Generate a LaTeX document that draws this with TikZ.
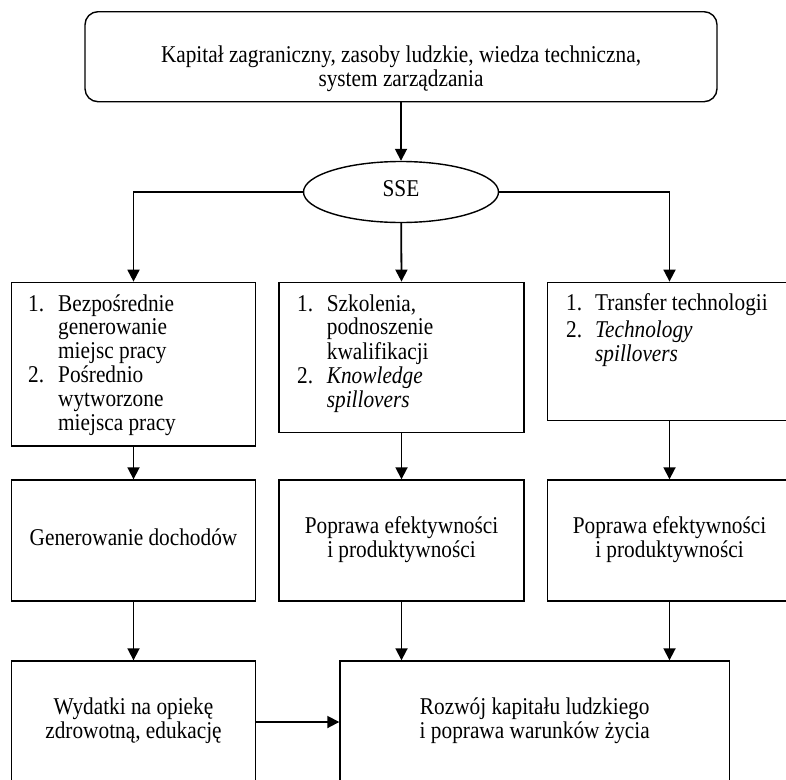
\documentclass[tikz,border=0pt]{standalone}
\usepackage{fontspec}
\usepackage{graphicx}
\setmainfont{Liberation Serif}
\usetikzlibrary{arrows.meta,shapes.geometric,calc}
\newcommand{\tx}[1]{\scalebox{1}[1.13]{\begin{tabular}{@{}c@{}}#1\end{tabular}}}
\newcommand{\lx}[2]{\scalebox{1}[1.13]{\begin{tabular}[t]{@{}l@{\hspace{#1}}l@{}}#2\end{tabular}}}
\begin{document}
\begin{tikzpicture}[x=1pt,y=-1pt,
  box/.style={draw,line width=1.4pt,rectangle,inner sep=0pt},
  txt/.style={font=\fontsize{21.3}{21.2}\selectfont,align=center,inner sep=0pt},
  lst/.style={font=\fontsize{21.3}{21.2}\selectfont,inner sep=0pt,anchor=base west},
  arr/.style={line width=1.8pt,-{Triangle[length=12pt,width=12pt]}}]
\useasboundingbox (0,0) rectangle (786,779);
\clip (0,0) rectangle (786,779);
% top
\node[box,rounded corners=13pt,minimum width=632pt,minimum height=90pt] (top) at (401,56.7) {};
\node[txt] (toptxt) at (401,70) {\tx{Kapitał zagraniczny, zasoby ludzkie, wiedza techniczna,\\system zarządzania}};
\node[draw,ellipse,line width=1.4pt,minimum width=195pt,minimum height=61pt,txt] (sse) at (401,192) {\tx{SSE}};
% row 1
\node[box,minimum width=244pt,minimum height=163.7pt] (b1) at (133.5,364.2) {};
\node[box,minimum width=245pt,minimum height=150.4pt] (b2) at (401.5,357.5) {};
\node[box,minimum width=244pt,minimum height=138.4pt] (b3) at (669.5,351.5) {};
\node[lst] (t1) at (28,311) {\lx{14pt}{1. & Bezpośrednie\\ & generowanie\\ & miejsc pracy\\ 2. & Pośrednio\\ & wytworzone\\ & miejsca pracy}};
\node[lst] (t2) at (297,311) {\lx{13.7pt}{1. & Szkolenia,\\ & podnoszenie\\ & kwalifikacji\\ 2. & \textit{Knowledge}\\ & \textit{spillovers}}};
\node[lst] (t3) at (566,310) {\lx{13pt}{1. & Transfer technologii\\[3.5pt] 2. & \textit{Technology}\\ & \textit{spillovers}}};
% row 2
\node[box,txt,minimum width=244pt,minimum height=121pt] (c1) at (133.5,540.5) {\tx{Generowanie dochodów}};
\node[box,txt,minimum width=245pt,minimum height=121pt] (c2) at (401.5,540.5) {\tx{Poprawa efektywności\\i produktywności}};
\node[box,txt,minimum width=244pt,minimum height=121pt] (c3) at (669.5,540.5) {\tx{Poprawa efektywności\\i produktywności}};
% row 3
\node[box,txt,minimum width=244pt,minimum height=122pt] (w) at (133.5,722) {\tx{Wydatki na opiekę\\zdrowotną, edukację}};
\node[box,txt,minimum width=389.5pt,minimum height=122pt] (big) at (534.75,722) {\tx{Rozwój kapitału ludzkiego\\i poprawa warunków życia}};
% connectors
\draw[arr] (top) -- (sse);
\draw[arr] (sse.west) -| (b1.north);
\draw[arr] (sse) -- (b2.north);
\draw[arr] (sse.east) -| (b3.north);
\draw[arr] (b1) -- (c1);
\draw[arr] (b2) -- (c2);
\draw[arr] (b3) -- (c3);
\draw[arr] (c1) -- (w);
\draw[arr] (c2.south) -- (c2.south |- big.north);
\draw[arr] (c3.south) -- (c3.south |- big.north);
\draw[arr] (w.east) -- (big.west);
\end{tikzpicture}
\end{document}
